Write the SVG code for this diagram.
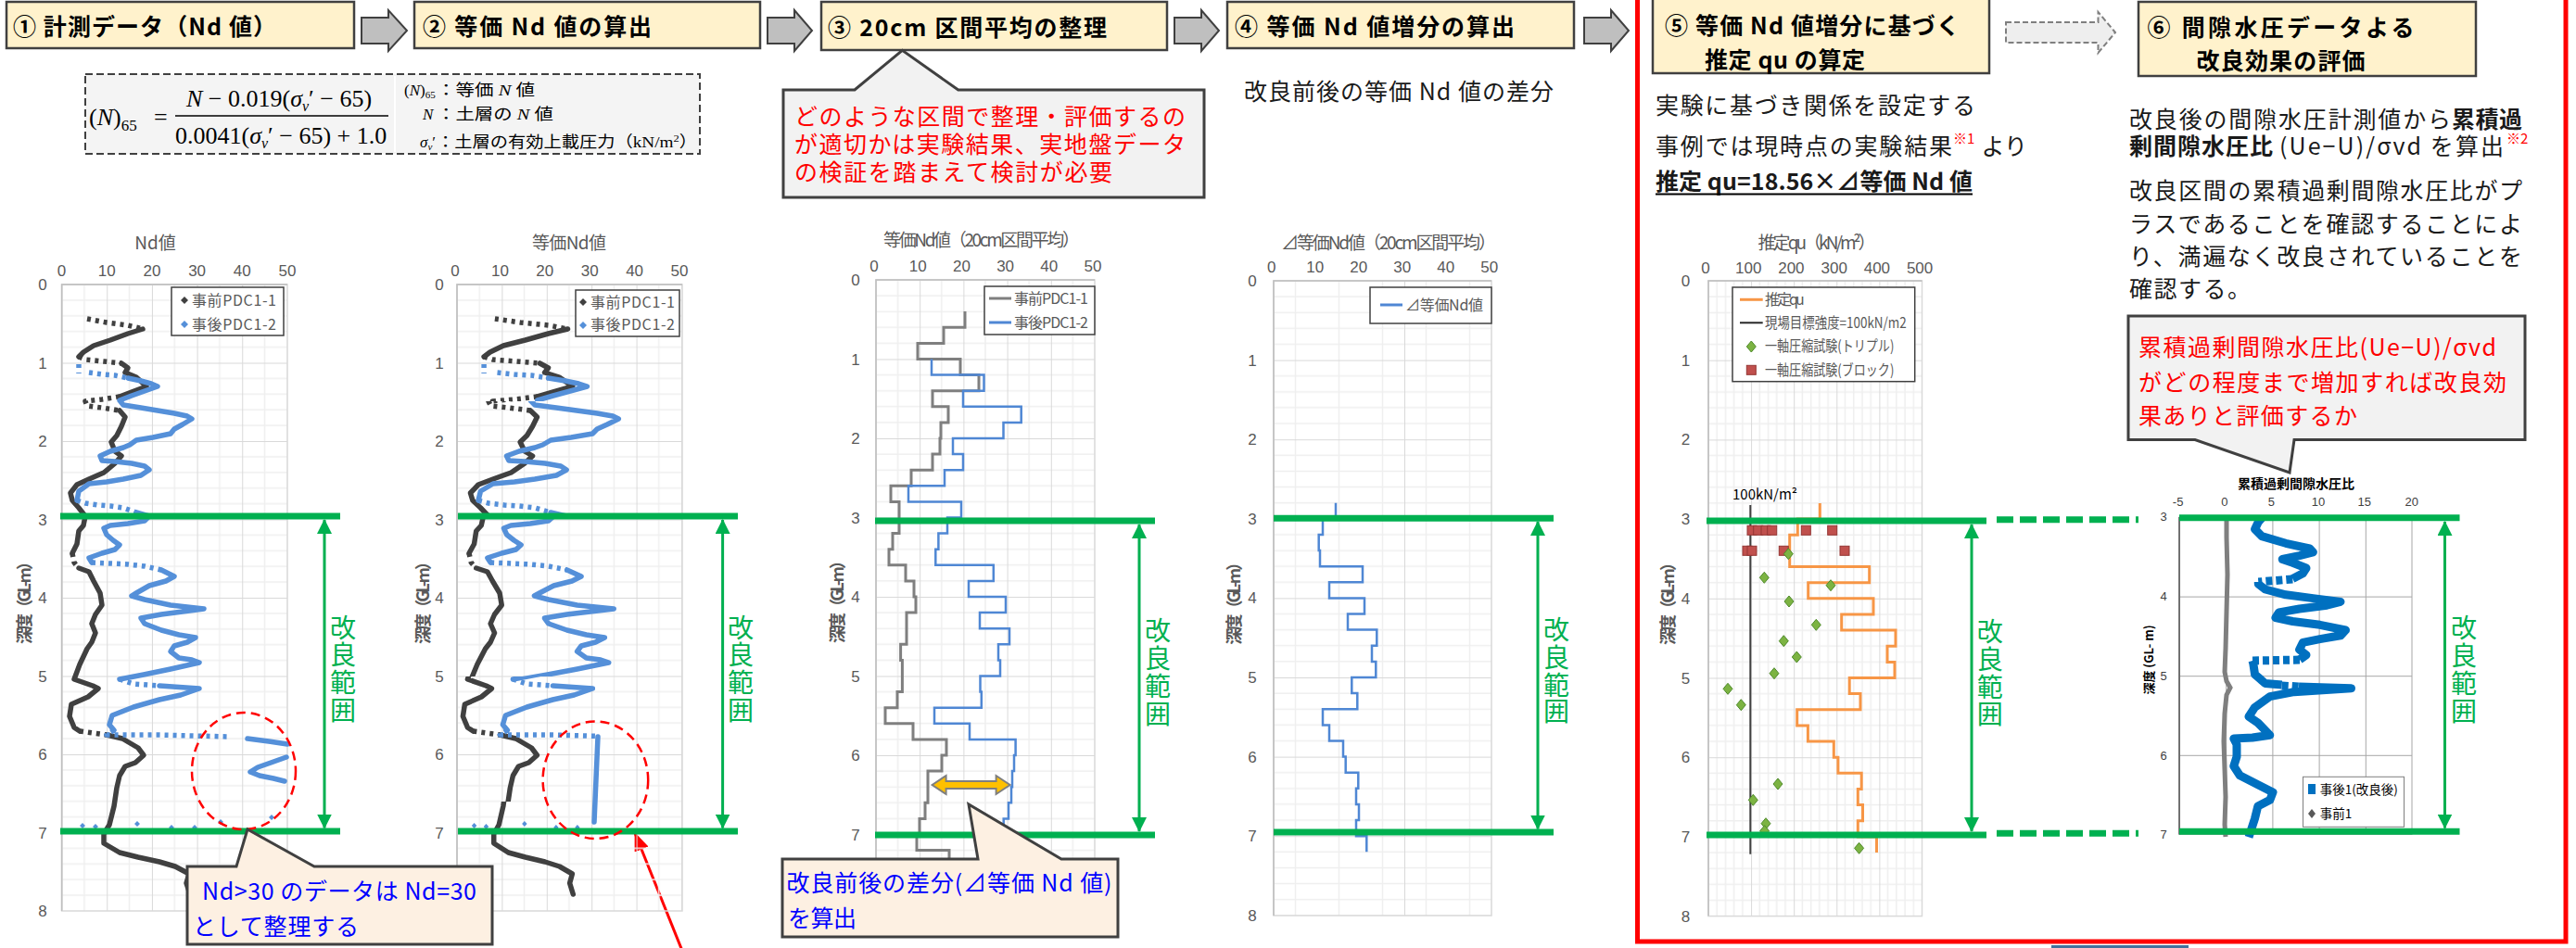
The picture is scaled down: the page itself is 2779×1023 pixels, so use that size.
<svg xmlns="http://www.w3.org/2000/svg" width="2779" height="1023" viewBox="0 0 2779 1023">
<style>
text{font-family:"Noto Sans CJK JP","Liberation Sans",sans-serif}
.sf{font-family:"Liberation Serif","Noto Sans CJK JP",serif}
.hdr{fill:#fff2cc;stroke:#404040;stroke-width:2.5}
.hdt{font-size:25px;font-weight:bold;fill:#000}
.arw{fill:#bfbfbf;stroke:#404040;stroke-width:2}
.body{font-size:25px;fill:#1a1a1a}
.rd{fill:#ff0000}
.bu{fill:#0000ff}
.co{fill:#f2f2f2;stroke:#404040;stroke-width:3}
.cop{fill:#fdf0e2;stroke:#404040;stroke-width:3}
.ax{font-family:"Liberation Sans","Noto Sans CJK JP",sans-serif;font-size:17px;fill:#595959;text-anchor:middle}
.ax6{font-family:"Liberation Sans",sans-serif;font-size:13px;fill:#404040;text-anchor:middle}
.ct{font-size:19px;fill:#595959;text-anchor:middle}
.yt{font-size:18px;font-weight:bold;fill:#595959;text-anchor:middle}
.lg{font-size:16px;fill:#595959}
.kr{font-size:28px;fill:#00b050;text-anchor:middle}
.gl{stroke:#00b050;stroke-width:7}
.gld{stroke:#00b050;stroke-width:7;stroke-dasharray:18 7}
.ga{stroke:#00b050;stroke-width:3;marker-start:url(#ah);marker-end:url(#ah)}
.gk,.gkd,.bl,.bld{fill:none;stroke-width:5.5;stroke-linejoin:round;vector-effect:non-scaling-stroke}
.gk{stroke:#404040;stroke-linecap:round}
.gkd{stroke:#404040;stroke-dasharray:4 5}
.bl{stroke:#5590d9;stroke-linecap:round}
.bld{stroke:#5590d9;stroke-dasharray:4 5}
.mn{stroke:#efefef;stroke-width:1.5;fill:none}
.mj{stroke:#d9d9d9;stroke-width:2;fill:none}
.plot{stroke:#d9d9d9;stroke-width:1.5}
.axl{stroke:#bfbfbf;stroke-width:1.5;fill:none}
.stg{fill:none;stroke:#7f7f7f;stroke-width:3}
.stb{fill:none;stroke:#4f87d4;stroke-width:2.5}
.ell{fill:none;stroke:#ff0000;stroke-width:2.5;stroke-dasharray:10 6}
.lgb{fill:#fff;stroke:#404040;stroke-width:1.5}
.b6{fill:none;stroke:#0070c0;stroke-width:9;stroke-linejoin:round}
.b6d{fill:none;stroke:#0070c0;stroke-width:9;stroke-dasharray:7 4}
</style>
<defs>
<marker id="ah" viewBox="0 0 16 16" refX="15" refY="8" markerWidth="16" markerHeight="16" markerUnits="userSpaceOnUse" orient="auto-start-reverse"><path d="M0,0 L16,8 L0,16 Z" fill="#00b050"/></marker>
<marker id="rh" viewBox="0 0 20 16" refX="19" refY="8" markerWidth="20" markerHeight="16" markerUnits="userSpaceOnUse" orient="auto"><path d="M0,0 L20,8 L0,16 Z" fill="#ff0000"/></marker>
<pattern id="p1" patternUnits="userSpaceOnUse" x="66.6" y="307" width="48.66" height="84.5"><path class="mn" d="M24.33,0V84.5M0,16.9H48.66M0,33.8H48.66M0,50.7H48.66M0,67.6H48.66"/><path class="mj" d="M0,0V84.5M0,0H48.66"/></pattern>
<pattern id="p2" patternUnits="userSpaceOnUse" x="493" y="307" width="48.4" height="84.5"><path class="mn" d="M24.2,0V84.5M0,16.9H48.4M0,33.8H48.4M0,50.7H48.4M0,67.6H48.4"/><path class="mj" d="M0,0V84.5M0,0H48.4"/></pattern>
<pattern id="p3" patternUnits="userSpaceOnUse" x="945" y="302" width="47.2" height="85.5"><path class="mn" d="M23.6,0V85.5M0,17.1H47.2M0,34.2H47.2M0,51.3H47.2M0,68.4H47.2"/><path class="mj" d="M0,0V85.5M0,0H47.2"/></pattern>
<pattern id="p4" patternUnits="userSpaceOnUse" x="1374" y="303" width="47" height="85.6"><path class="mn" d="M23.5,0V85.6M0,17.12H47M0,34.24H47M0,51.36H47M0,68.48H47"/><path class="mj" d="M0,0V85.6M0,0H47"/></pattern>
<pattern id="p5" patternUnits="userSpaceOnUse" x="1843" y="303" width="46.1" height="85.7"><path class="mn" d="M9.22,0V85.7M18.44,0V85.7M27.66,0V85.7M36.88,0V85.7M0,17.14H46.1M0,34.28H46.1M0,51.42H46.1M0,68.56H46.1"/><path class="mj" d="M0,0V85.7M0,0H46.1"/></pattern>
<pattern id="p6" patternUnits="userSpaceOnUse" x="2351" y="558" width="50.2" height="85.6"><path d="M0,0V85.6M0,0H50.2" stroke="#a6a6a6" stroke-width="2" fill="none"/></pattern>
<clipPath id="k1"><rect x="480" y="300" width="270" height="133"/></clipPath>
<clipPath id="k2"><rect x="480" y="433" width="270" height="127"/></clipPath>
<clipPath id="k3"><rect x="480" y="560" width="270" height="170"/></clipPath>
<clipPath id="k4"><rect x="480" y="730" width="270" height="135"/></clipPath>
<clipPath id="k5"><rect x="480" y="865" width="270" height="120"/></clipPath>
<clipPath id="k4b"><rect x="480" y="730" width="162" height="135"/></clipPath>
<clipPath id="k5b"><rect x="480" y="865" width="162" height="120"/></clipPath>
<g id="c1g">
<polyline class="gk" points="154,355 138,360 119,367 101,373 90,380 85,385"/>
<polyline class="gk" points="131,392 138,397 135,402 147,407 158,417 142,423 129,428"/>
<polyline class="gk" points="129,443 135,450 131,460 126,470 120,477 124,487 131,492 124,500 112,510 96,517 83,523 76,532 78,540 85,548 92,557 90,567 85,573 83,587 78,597"/>
<polyline class="gk" points="85,613 96,617 101,627 108,640 110,653 103,663 99,673 103,683 99,693 94,700 86,717 80,733 100,740 106,743 95,752 77,760 75,773 80,785 86,789"/>
<polyline class="gk" points="115,793 132,797 149,807 155,815 146,823 135,827 129,837 126,850 123,870 118,890 112,900 112,910 129,920 149,925 172,930 189,935 204,943 201,953 205,965"/>
<polyline class="gkd" points="94,344 115,348 138,351 154,355"/>
<polyline class="gkd" points="85,385 92,388 112,390 131,392"/>
<polyline class="gkd" points="129,428 110,431 92,433 94,438 110,440 129,443"/>
<polyline class="gkd" points="78,597 80,607 85,613"/>
<polyline class="gkd" points="86,789 100,791 115,793"/>
</g>
<g id="c1b">
<polyline class="bl" points="138,408 152,411 163,414 170,417 156,422 142,427 129,432 133,437 152,440 170,443 188,446 202,449 207,452 197,458 188,463 184,468 165,472 147,475 140,480 133,483 119,487 108,492 110,497 124,498 142,500 156,503 161,507 152,513 133,517 115,520 96,522 85,530 83,540"/>
<polyline class="bl" points="147,553 161,557 156,562 138,565 119,567 112,570 115,577 122,583 129,588 124,593 110,597 96,602 99,607"/>
<polyline class="bl" points="174,615 188,622 179,627 161,632 147,640 142,643 156,647 170,650 184,653 202,655 220,657 197,660 174,663 152,667 156,673 174,680 193,685 211,688 202,693 188,697 184,703 193,710 207,712 215,715 184,722 155,728 129,733"/>
<polyline class="bl" points="172,740 215,743 195,750 172,755 144,763 121,772 118,782 123,788"/>
<polyline class="bl" points="267,797 290,800 310,803"/>
<polyline class="bl" points="309,817 295,822 278,828 270,833 280,837 295,840 307,843"/>
<polyline class="bld" points="85,393 85,403"/>
<polyline class="bld" points="96,402 110,404 124,405 138,408"/>
<polyline class="bld" points="83,540 92,543 106,545 119,546 133,548 147,553"/>
<polyline class="bld" points="99,607 119,608 138,609 156,611 174,615"/>
<polyline class="bld" points="129,733 144,738 172,740"/>
<polyline class="bld" points="123,788 115,793 170,793 247,795"/>
<path d="M89,888l3,3-3,3-3-3zM103,889l3,3-3,3-3-3zM148,886l3,3-3,3-3-3zM185,890l3,3-3,3-3-3zM210,890l3,3-3,3-3-3zM238,884l3,3-3,3-3-3zM293,879l3,3-3,3-3-3z" fill="#5590d9"/>
</g>
<path id="dia" d="M0,-6 L5,0 L0,6 L-5,0 Z" fill="#7cb342" stroke="#4e8a2a" stroke-width="1"/>
<rect id="sq" x="-5" y="-5" width="10" height="10" fill="#c0504d" stroke="#943634" stroke-width="1"/>
</defs>
<rect width="2779" height="1023" fill="#fff"/>

<g id="frame56"><rect x="1766.5" y="-6" width="1001.5" height="1022" fill="none" stroke="#ff0000" stroke-width="5"/></g>

<g id="step1"><rect class="hdr" x="7" y="2" width="375" height="50"/><text class="hdt" x="14" y="37.5" textLength="284">①  計測データ（Nd 値）</text></g>
<g id="step2"><rect class="hdr" x="447" y="2" width="373" height="50"/><text class="hdt" x="456" y="37.5" textLength="247">②  等価 Nd 値の算出</text></g>
<g id="step3"><rect class="hdr" x="886" y="2" width="373" height="52"/><text class="hdt" x="893" y="39" textLength="301">③  20cm 区間平均の整理</text></g>
<g id="step4"><rect class="hdr" x="1324" y="2" width="374" height="50"/><text class="hdt" x="1332" y="38" textLength="302">④  等価 Nd 値増分の算出</text></g>
<g id="step5"><rect class="hdr" x="1783" y="-2" width="363" height="81"/><text class="hdt" x="1796" y="37" textLength="318">⑤  等価 Nd 値増分に基づく</text><text class="hdt" x="1839" y="73.5" textLength="173">推定 qu の算定</text></g>
<g id="step6"><rect class="hdr" x="2307" y="2" width="364" height="80"/><text class="hdt" x="2316.5" y="38.5" textLength="288">⑥  間隙水圧データよる</text><text class="hdt" x="2369.6" y="74.5" textLength="182">改良効果の評価</text></g>

<g id="connectors">
<polygon class="arw" points="390,19 419,19 419,11 439,33 419,55 419,47 390,47"/>
<polygon class="arw" points="828,19 857,19 857,11 876,33 857,55 857,47 828,47"/>
<polygon class="arw" points="1267,19 1296,19 1296,11 1315,33 1296,55 1296,47 1267,47"/>
<polygon class="arw" points="1709,19 1738,19 1738,11 1757,33 1738,55 1738,47 1709,47"/>
<polygon points="2164,24 2263.5,24 2263.5,13 2282,35 2263.5,57 2263.5,46 2164,46" fill="#eeeeee" stroke="#7f7f7f" stroke-width="2" stroke-dasharray="6 3"/>
<line x1="736" y1="1026" x2="685" y2="899" stroke="#ff0000" stroke-width="3" marker-end="url(#rh)"/>
</g>

<g id="formula">
<rect x="92" y="80" width="663" height="86" fill="#f4f4f4" stroke="#404040" stroke-width="2" stroke-dasharray="8 4"/>
<line x1="426" y1="82" x2="426" y2="164" stroke="#fff" stroke-width="2"/>
<text class="sf" x="96" y="135" font-size="26">(<tspan font-style="italic">N</tspan>)<tspan font-size="17" dy="6">65</tspan></text>
<text class="sf" x="166" y="135" font-size="26">=</text>
<line x1="189" y1="125" x2="419" y2="125" stroke="#000" stroke-width="1.5"/>
<text class="sf" x="201" y="115" font-size="26"><tspan font-style="italic">N</tspan> − 0.019(<tspan font-style="italic">σ</tspan><tspan font-size="16" dy="5" font-style="italic">v</tspan><tspan dy="-5">′ − 65)</tspan></text>
<text class="sf" x="189" y="155" font-size="26">0.0041(<tspan font-style="italic">σ</tspan><tspan font-size="16" dy="5" font-style="italic">v</tspan><tspan dy="-5">′ − 65) + 1.0</tspan></text>
<text class="sf" x="436" y="103" font-size="17">(<tspan font-style="italic">N</tspan>)<tspan font-size="11" dy="3">65</tspan></text>
<text class="sf" x="471" y="103" font-size="17" textLength="106" lengthAdjust="spacingAndGlyphs">：等価 <tspan font-style="italic">N</tspan> 値</text>
<text class="sf" x="456" y="129" font-size="17" font-style="italic">N</text>
<text class="sf" x="471" y="129" font-size="17" textLength="126" lengthAdjust="spacingAndGlyphs">：土層の <tspan font-style="italic">N</tspan> 値</text>
<text class="sf" x="453" y="159" font-size="17"><tspan font-style="italic">σ</tspan><tspan font-size="11" dy="3" font-style="italic">v</tspan><tspan dy="-3">′</tspan></text>
<text class="sf" x="471" y="159" font-size="17" textLength="281" lengthAdjust="spacingAndGlyphs">：土層の有効上載圧力（kN/m<tspan font-size="11" dy="-6">2</tspan><tspan dy="6">）</tspan></text>
</g>

<g id="callout3">
<path class="co" d="M845,97 L922,97 L973.4,54.3 L1033.7,97 L1299,97 L1299,213 L845,213 Z"/>
<text class="body rd" x="857" y="134.5" textLength="422">どのような区間で整理・評価するの</text>
<text class="body rd" x="857" y="164.5" textLength="422">が適切かは実験結果、実地盤データ</text>
<text class="body rd" x="857" y="195" textLength="343">の検証を踏まえて検討が必要</text>
</g>
<text id="note4" class="body" x="1342" y="108" textLength="334">改良前後の等価 Nd 値の差分</text>

<g id="note5">
<text class="body" x="1786" y="123" textLength="345">実験に基づき関係を設定する</text>
<text class="body" x="1786" y="167" textLength="320">事例では現時点の実験結果</text>
<text class="rd" x="2107" y="155" font-size="15">※1</text>
<text class="body" x="2137.6" y="167">より</text>
<text class="body" x="1786" y="205" font-weight="bold" textLength="342">推定 qu=18.56×⊿等価 Nd 値</text>
<line x1="1786" y1="209.5" x2="2128" y2="209.5" stroke="#000" stroke-width="2"/>
</g>

<g id="note6">
<text class="body" x="2297" y="138" textLength="347">改良後の間隙水圧計測値から</text>
<text class="body" x="2645" y="138" font-weight="bold" textLength="76">累積過</text>
<text class="body" x="2297" y="167" font-weight="bold" textLength="155">剰間隙水圧比</text>
<text class="body" x="2459" y="167" textLength="242">(Ue−U)/σvd を算出</text>
<text class="rd" x="2704" y="155" font-size="15">※2</text>
<text class="body" x="2297" y="215" textLength="424">改良区間の累積過剰間隙水圧比がプ</text>
<text class="body" x="2297" y="250.5" textLength="424">ラスであることを確認することによ</text>
<text class="body" x="2297" y="285.5" textLength="424">り、満遍なく改良されていることを</text>
<text class="body" x="2297" y="320.5" letter-spacing="1.5">確認する。</text>
</g>

<g id="callout6">
<path class="co" d="M2296,341 L2724,341 L2724,474.5 L2475,474.5 L2470,510 L2368,474.5 L2296,474.5 Z"/>
<text class="body rd" x="2307" y="383.5" textLength="386">累積過剰間隙水圧比(Ue−U)/σvd</text>
<text class="body rd" x="2307" y="421.5" textLength="397">がどの程度まで増加すれば改良効</text>
<text class="body rd" x="2307" y="458" textLength="236">果ありと評価するか</text>
</g>

<!-- Chart 1 -->
<g id="chart1">
<text class="ct" x="167.6" y="269">Nd値</text>
<text class="ax" y="298"><tspan x="66.6">0</tspan><tspan x="115.3">10</tspan><tspan x="163.9">20</tspan><tspan x="212.6">30</tspan><tspan x="261.2">40</tspan><tspan x="309.9">50</tspan></text>
<text class="ax"><tspan x="46" y="313">0</tspan><tspan x="46" y="397.5">1</tspan><tspan x="46" y="482">2</tspan><tspan x="46" y="566.5">3</tspan><tspan x="46" y="651">4</tspan><tspan x="46" y="735.5">5</tspan><tspan x="46" y="820">6</tspan><tspan x="46" y="904.5">7</tspan><tspan x="46" y="989">8</tspan></text>
<rect class="plot" x="66.6" y="307" width="243.4" height="676" fill="url(#p1)"/>
<path class="axl" d="M66.6,983V307H310"/>
<text class="yt" transform="translate(33.2,646) rotate(-90)" textLength="98">深度（GL-m）</text>
<use href="#c1g"/>
<use href="#c1b"/>
<rect class="lgb" x="185" y="310" width="121" height="52"/>
<path d="M199,320l4,4-4,4-4-4z" fill="#404040"/><path d="M199,346l4,4-4,4-4-4z" fill="#5590d9"/>
<text class="lg" x="207" y="329.5" textLength="91">事前PDC1-1</text>
<text class="lg" x="207" y="355.5" textLength="91">事後PDC1-2</text>
<line class="gl" x1="65" y1="557" x2="367" y2="557"/>
<line class="gl" x1="65" y1="897" x2="367" y2="897"/>
<line class="ga" x1="350" y1="561" x2="350" y2="893.5"/>
<text class="kr"><tspan x="370" y="688">改</tspan><tspan x="370" y="717">良</tspan><tspan x="370" y="747">範</tspan><tspan x="370" y="777">囲</tspan></text>
<ellipse class="ell" cx="263" cy="832" rx="56" ry="63"/>
</g>

<!-- Chart 2 -->
<g id="chart2">
<text class="ct" x="614" y="269" textLength="80">等価Nd値</text>
<text class="ax" y="298"><tspan x="491">0</tspan><tspan x="539.4">10</tspan><tspan x="587.8">20</tspan><tspan x="636.2">30</tspan><tspan x="684.6">40</tspan><tspan x="733">50</tspan></text>
<text class="ax"><tspan x="474" y="313">0</tspan><tspan x="474" y="397.5">1</tspan><tspan x="474" y="482">2</tspan><tspan x="474" y="566.5">3</tspan><tspan x="474" y="651">4</tspan><tspan x="474" y="735.5">5</tspan><tspan x="474" y="820">6</tspan><tspan x="474" y="904.5">7</tspan><tspan x="474" y="989">8</tspan></text>
<rect class="plot" x="493" y="307" width="243" height="676" fill="url(#p2)"/>
<path class="axl" d="M493,983V307H736"/>
<text class="yt" transform="translate(462.5,646) rotate(-90)" textLength="98">深度（GL-m）</text>
<g clip-path="url(#k1)"><use href="#c1g" transform="translate(410.75,0) scale(1.31,1)"/></g>
<g clip-path="url(#k2)"><use href="#c1g" transform="translate(414.75,0) scale(1.22,1)"/></g>
<g clip-path="url(#k3)"><use href="#c1g" transform="translate(420.24,0) scale(1.1,1)"/></g>
<g clip-path="url(#k4)"><use href="#c1g" transform="translate(424.4,0)"/></g>
<g clip-path="url(#k5)"><use href="#c1g" transform="translate(429.7,0) scale(0.92,1)"/></g>
<g clip-path="url(#k1)"><use href="#c1b" transform="translate(410.75,0) scale(1.31,1)"/></g>
<g clip-path="url(#k2)"><use href="#c1b" transform="translate(414.75,0) scale(1.22,1)"/></g>
<g clip-path="url(#k3)"><use href="#c1b" transform="translate(420.24,0) scale(1.1,1)"/></g>
<g clip-path="url(#k4b)"><use href="#c1b" transform="translate(424.4,0)"/></g>
<g clip-path="url(#k5b)"><use href="#c1b" transform="translate(429.7,0) scale(0.92,1)"/></g>
<polyline class="bl" points="645,795 641,887"/>
<rect class="lgb" x="621" y="313" width="112" height="50"/>
<path d="M629,322l4,4-4,4-4-4z" fill="#404040"/><path d="M629,347l4,4-4,4-4-4z" fill="#5590d9"/>
<text class="lg" x="637" y="331.5" textLength="91">事前PDC1-1</text>
<text class="lg" x="637" y="356" textLength="91">事後PDC1-2</text>
<line class="gl" x1="494" y1="557" x2="796" y2="557"/>
<line class="gl" x1="494" y1="897" x2="796" y2="897"/>
<line class="ga" x1="779.6" y1="561" x2="779.6" y2="893.5"/>
<text class="kr"><tspan x="799" y="688">改</tspan><tspan x="799" y="717">良</tspan><tspan x="799" y="747">範</tspan><tspan x="799" y="777">囲</tspan></text>
<ellipse class="ell" cx="642.4" cy="841.7" rx="56.8" ry="63.3"/>
</g>

<g id="callout1">
<path class="cop" d="M202,935 L255,935 L267,895 L339,935 L531,935 L531,1019 L202,1019 Z"/>
<text class="body bu" x="218" y="970.5" textLength="296">Nd&gt;30 のデータは Nd=30</text>
<text class="body bu" x="208" y="1008.5" textLength="179">として整理する</text>
</g>

<!-- Chart 3 -->
<g id="chart3">
<text class="ct" x="1059" y="266" textLength="212">等価Nd値（20cm区間平均）</text>
<text class="ax" y="293"><tspan x="943">0</tspan><tspan x="990.2">10</tspan><tspan x="1037.4">20</tspan><tspan x="1084.6">30</tspan><tspan x="1131.8">40</tspan><tspan x="1179">50</tspan></text>
<text class="ax"><tspan x="923" y="308">0</tspan><tspan x="923" y="393.5">1</tspan><tspan x="923" y="479">2</tspan><tspan x="923" y="564.5">3</tspan><tspan x="923" y="650">4</tspan><tspan x="923" y="735.5">5</tspan><tspan x="923" y="821">6</tspan><tspan x="923" y="906.5">7</tspan><tspan x="923" y="992">8</tspan></text>
<rect class="plot" x="945" y="302" width="236" height="684" fill="url(#p3)"/>
<path class="axl" d="M945,986V302H1181"/>
<text class="yt" transform="translate(909.8,645) rotate(-90)" textLength="98">深度（GL-m）</text>
<path class="stg" d="M1041,336V353.3H1018V370.4H990V387.5H1036V404.6H1056V421.7H1006V438.8H1023V455.9H1015V473H1014V490.1H1006V507.2H983V524.3H961V541.4H970V575.6H963V592.7H959V609.8H977V626.9H986V644H988V661.1H978V695.3H971.6V712.4H973.4V746.6H968V763.7H955V780.8H985V797.9H1021V815H1016V832.1H1001V866.3H998V883.4H992V900.5H989V917.6H1024V930"/>
<path class="stb" d="M1005,387.5V404.6H1061.5V421.7H1039V438.8H1101.7V455.9H1082.5V473H1028V490.1H1039V507.2H1019V524.3H980V541.4H1037V558.5H1022V575.6H1012.4V592.7H1009.3V609.8H1071.8V626.9H1045V644H1085V661.1H1057V678.2H1089V695.3H1077V712.4H1079V729.5H1057.5V746.6H1058.8V763.7H1008V780.8H1046V797.9H1095.6V815H1094V832.1H1092V849.2H1091V866.3H1088V883.4H1082.7V900.5H1080V927"/>
<rect class="lgb" x="1062" y="309" width="119" height="52"/>
<line x1="1067" y1="322" x2="1091" y2="322" stroke="#7f7f7f" stroke-width="3"/>
<line x1="1067" y1="348" x2="1091" y2="348" stroke="#4f87d4" stroke-width="3"/>
<text class="lg" x="1094" y="327.5" font-size="15" textLength="80">事前PDC1-1</text>
<text class="lg" x="1094" y="353.5" font-size="15" textLength="80">事後PDC1-2</text>
<polygon points="1005.6,847 1020.6,837 1020.6,843 1074.6,843 1074.6,837 1089.6,847 1074.6,857 1074.6,851 1020.6,851 1020.6,857" fill="#ffc000" stroke="#7f7f7f" stroke-width="2"/>
<line class="gl" x1="944" y1="562" x2="1246" y2="562"/>
<line class="gl" x1="944" y1="901" x2="1246" y2="901"/>
<line class="ga" x1="1229" y1="566" x2="1229" y2="897"/>
<text class="kr"><tspan x="1249" y="691">改</tspan><tspan x="1249" y="721">良</tspan><tspan x="1249" y="751">範</tspan><tspan x="1249" y="781">囲</tspan></text>
</g>

<g id="callout3b">
<path class="cop" d="M844,927 L1055,927 L1045,868 L1145,927 L1206,927 L1206,1011 L844,1011 Z"/>
<text class="body bu" x="848.5" y="962" textLength="351">改良前後の差分(⊿等価 Nd 値)</text>
<text class="body bu" x="850" y="999.5" textLength="74">を算出</text>
</g>

<!-- Chart 4 -->
<g id="chart4">
<text class="ct" x="1498" y="269" textLength="232">⊿等価Nd値（20cm区間平均）</text>
<text class="ax" y="294"><tspan x="1371.7">0</tspan><tspan x="1418.7">10</tspan><tspan x="1465.7">20</tspan><tspan x="1512.7">30</tspan><tspan x="1559.7">40</tspan><tspan x="1606.7">50</tspan></text>
<text class="ax"><tspan x="1351" y="309">0</tspan><tspan x="1351" y="394.6">1</tspan><tspan x="1351" y="480.2">2</tspan><tspan x="1351" y="565.8">3</tspan><tspan x="1351" y="651.4">4</tspan><tspan x="1351" y="737">5</tspan><tspan x="1351" y="822.6">6</tspan><tspan x="1351" y="908.2">7</tspan><tspan x="1351" y="993.8">8</tspan></text>
<rect class="plot" x="1374" y="303" width="235" height="685" fill="url(#p4)"/>
<path class="axl" d="M1374,988V303H1609"/>
<text class="yt" transform="translate(1337.8,646.7) rotate(-90)" textLength="98">深度（GL-m）</text>
<path class="stb" d="M1441,542.7V559.8H1427V576.9H1422.7V594H1424V611.2H1470V628.3H1434V645.4H1472V662.5H1454V679.6H1485.3V696.8H1480V713.9H1484.3V731H1458.3V748.1H1464.3V765.2H1427V782.4H1434V799.5H1449V816.6H1451.7V833.7H1465.3V850.8H1463V868H1466V885.1H1463V902.2H1474.3V919.3"/>
<rect class="lgb" x="1478" y="310" width="131" height="39"/>
<line x1="1489" y1="329" x2="1513" y2="329" stroke="#4f87d4" stroke-width="3"/>
<text class="lg" x="1516" y="335" textLength="84">⊿等価Nd値</text>
<line class="gl" x1="1374" y1="559.3" x2="1676" y2="559.3"/>
<line class="gl" x1="1374" y1="898" x2="1676" y2="898"/>
<line class="ga" x1="1659" y1="563" x2="1659" y2="894.5"/>
<text class="kr"><tspan x="1679" y="690">改</tspan><tspan x="1679" y="720">良</tspan><tspan x="1679" y="750">範</tspan><tspan x="1679" y="778">囲</tspan></text>
</g>

<!-- Chart 5 -->
<g id="chart5">
<text class="ct" x="1960" y="269" textLength="127">推定qu（kN/m²）</text>
<text class="ax" y="295"><tspan x="1840">0</tspan><tspan x="1886.2">100</tspan><tspan x="1932.4">200</tspan><tspan x="1978.7">300</tspan><tspan x="2024.9">400</tspan><tspan x="2071.1">500</tspan></text>
<text class="ax"><tspan x="1818.5" y="309">0</tspan><tspan x="1818.5" y="394.7">1</tspan><tspan x="1818.5" y="480.4">2</tspan><tspan x="1818.5" y="566.1">3</tspan><tspan x="1818.5" y="651.8">4</tspan><tspan x="1818.5" y="737.5">5</tspan><tspan x="1818.5" y="823.2">6</tspan><tspan x="1818.5" y="908.9">7</tspan><tspan x="1818.5" y="994.6">8</tspan></text>
<rect class="plot" x="1843" y="303" width="230.5" height="685.6" fill="url(#p5)"/>
<path class="axl" d="M1843,988.6V303H2073.5"/>
<text class="yt" transform="translate(1805.8,647) rotate(-90)" textLength="98">深度（GL-m）</text>
<line x1="1888.3" y1="545" x2="1888.3" y2="921.7" stroke="#404040" stroke-width="2"/>
<text x="1869" y="539" font-size="15" fill="#000">100kN/m²</text>
<path d="M1963.3,543V560.1H1939.3V577.2H1930.7V611.5H2016.7V628.7H1950.7V645.8H2021V663H1986.7V680.1H2045V697.2H2036V714.4H2044V731.5H1995.2V748.6H2007V765.8H1938.7V782.9H1950.4V800.1H1978.3V817.2H1982.9V834.3H2008.2V851.5H2004.3V868.6H2009.5V885.8H2004.3V902.9H2024.5V920" fill="none" stroke="#f79646" stroke-width="3"/>
<use href="#sq" x="1890" y="572.3"/><use href="#sq" x="1896.7" y="572.3"/><use href="#sq" x="1905" y="572.3"/><use href="#sq" x="1911.7" y="572.3"/><use href="#sq" x="1948.3" y="572.3"/><use href="#sq" x="1976.7" y="572.3"/>
<use href="#sq" x="1885" y="594.3"/><use href="#sq" x="1890" y="594.3"/><use href="#sq" x="1924.3" y="594.3"/><use href="#sq" x="1990" y="594.3"/>
<use href="#dia" x="1929.3" y="597.7"/><use href="#dia" x="1903.3" y="623.3"/><use href="#dia" x="1975" y="631.7"/><use href="#dia" x="1930" y="649"/><use href="#dia" x="1959.3" y="674.3"/><use href="#dia" x="1924.3" y="691.7"/><use href="#dia" x="1938.3" y="709"/><use href="#dia" x="1914" y="726.7"/><use href="#dia" x="1864" y="743.3"/><use href="#dia" x="1878.3" y="760.7"/><use href="#dia" x="1918" y="846"/><use href="#dia" x="1891.3" y="863.3"/><use href="#dia" x="1905" y="888.7"/><use href="#dia" x="1903.6" y="896.7"/><use href="#dia" x="2005.6" y="915.3"/>
<rect class="lgb" x="1869" y="310" width="196.7" height="101.7"/>
<line x1="1877" y1="323.3" x2="1901.7" y2="323.3" stroke="#f79646" stroke-width="3"/>
<line x1="1877" y1="348.3" x2="1901.7" y2="348.3" stroke="#262626" stroke-width="2"/>
<use href="#dia" x="1889.3" y="374"/>
<use href="#sq" x="1889.3" y="399.3"/>
<text class="lg" x="1904" y="328.5" font-size="14" textLength="42.7">推定qu</text>
<text class="lg" x="1904" y="353.5" font-size="14" textLength="152.7" lengthAdjust="spacingAndGlyphs">現場目標強度=100kN/m2</text>
<text class="lg" x="1904" y="379" font-size="14" textLength="139.3" lengthAdjust="spacingAndGlyphs">一軸圧縮試験(トリプル)</text>
<text class="lg" x="1904" y="404.5" font-size="14" textLength="139.3" lengthAdjust="spacingAndGlyphs">一軸圧縮試験(ブロック)</text>
<line class="gl" x1="1841" y1="562" x2="2143" y2="562"/>
<line class="gl" x1="1841" y1="901" x2="2143" y2="901"/>
<line class="ga" x1="2127" y1="566" x2="2127" y2="897"/>
<text class="kr"><tspan x="2146.7" y="692">改</tspan><tspan x="2146.7" y="722">良</tspan><tspan x="2146.7" y="752">範</tspan><tspan x="2146.7" y="781">囲</tspan></text>
</g>

<g id="link56">
<line class="gld" x1="2154" y1="560.7" x2="2307" y2="560.7"/>
<line class="gld" x1="2154" y1="899.3" x2="2307" y2="899.3"/>
</g>

<!-- Chart 6 -->
<g id="chart6">
<text x="2477" y="527" font-size="14" font-weight="bold" fill="#000" text-anchor="middle">累積過剰間隙水圧比</text>
<text class="ax6" y="546"><tspan x="2349.6">-5</tspan><tspan x="2399.8">0</tspan><tspan x="2450.4">5</tspan><tspan x="2501">10</tspan><tspan x="2550.8">15</tspan><tspan x="2601.8">20</tspan></text>
<text class="ax6"><tspan x="2334" y="562">3</tspan><tspan x="2334" y="648">4</tspan><tspan x="2334" y="734">5</tspan><tspan x="2334" y="820">6</tspan><tspan x="2334" y="905">7</tspan></text>
<rect x="2351" y="558" width="251" height="342.4" fill="url(#p6)" stroke="#a6a6a6" stroke-width="1"/>
<line x1="2351" y1="558" x2="2351" y2="900.4" stroke="#595959" stroke-width="1.5"/>
<text transform="translate(2322.5,712) rotate(-90)" font-size="13" font-weight="bold" fill="#000" text-anchor="middle">深度 (GL- m)</text>
<polyline points="2402,560 2402,580 2403,620 2402,660 2401,700 2400,725 2402,735 2406,742 2402,750 2400,770 2399,800 2400,830 2401,860 2400,890 2401,903" fill="none" stroke="#7f7f7f" stroke-width="5"/>
<polyline class="b6" points="2440,559 2436.3,563.3 2432.6,571 2440,578.6 2465.9,586.3 2491.7,592 2495.4,595.8 2480.6,599.7 2462.2,603.5 2473.3,607.3 2488,613 2484.3,618.8 2473.3,624.6"/>
<polyline class="b6d" points="2473.3,625 2436.3,628"/>
<polyline class="b6" points="2436.3,628 2436.3,630.3 2443.7,636 2465.9,641.8 2495.4,645.6 2525,649.4 2510.2,653.2 2480.6,657 2458.5,660.9 2454.8,666.6 2473.3,670.5 2502.8,674.3 2530.5,680 2525,685.8 2502.8,689.6 2484.3,693.4 2480.6,701 2488,706.8 2481,711.7"/>
<polyline class="b6d" points="2481,712 2430,713"/>
<polyline class="b6" points="2430,713 2430.8,716 2432.6,727.9 2439,733.3 2443.7,737.5 2461.7,739"/>
<polyline class="b6d" points="2461.7,740 2480,741"/>
<polyline class="b6" points="2480,741 2536.5,742.7 2474.8,746.7 2448.8,751.7 2432.5,763.3 2426,773.3 2435.8,780 2442.3,786.7 2448.8,793.3 2430,796 2409.8,797 2413,803.3 2413,816.7 2409.8,826.7 2416.3,836.7 2435.8,846.7 2452,855 2448.8,863.3 2435.8,870 2432.5,883.3 2426,903.3"/>
<rect x="2484.5" y="838.3" width="109" height="54" fill="#fff" stroke="#7f7f7f" stroke-width="1"/>
<rect x="2490" y="846" width="8" height="11" fill="#0070c0"/>
<path d="M2494,873l4,5-4,5-4-5z" fill="#595959"/>
<text x="2502.7" y="856.5" font-size="13.5" fill="#000">事後1(改良後)</text>
<text x="2502.7" y="883" font-size="13.5" fill="#000">事前1</text>
<line class="gl" x1="2351" y1="558.7" x2="2653.5" y2="558.7"/>
<line class="gl" x1="2351" y1="897.3" x2="2653.5" y2="897.3"/>
<line class="ga" x1="2637.5" y1="563" x2="2637.5" y2="893.5"/>
<text class="kr"><tspan x="2658" y="688">改</tspan><tspan x="2658" y="718">良</tspan><tspan x="2658" y="748">範</tspan><tspan x="2658" y="778">囲</tspan></text>
</g>
<rect x="2213" y="1020" width="148" height="3" fill="#41719c"/>
</svg>
